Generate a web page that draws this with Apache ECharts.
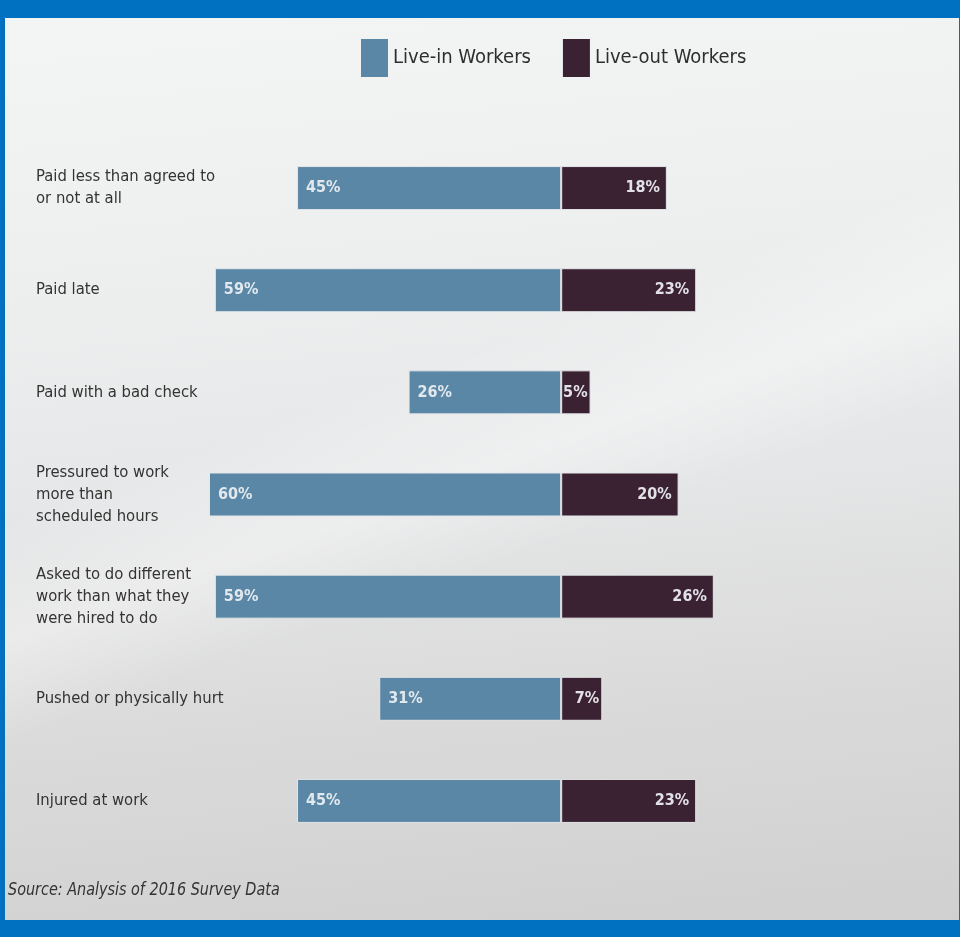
<!DOCTYPE html>
<html>
<head>
<meta charset="utf-8">
<script src="https://cdn.jsdelivr.net/npm/echarts@6/dist/echarts.min.js"></script>
<style>
  html, body { margin: 0; padding: 0; }
  body { width: 960px; height: 937px; background: #0070c0; position: relative; overflow: hidden; }
  #bg { position: absolute; left: 5px; top: 18px; width: 954px; height: 902px;
        background:
          linear-gradient(160deg, rgba(255,255,255,0) 40%, rgba(255,255,255,0.35) 50%, rgba(255,255,255,0) 58%),
          linear-gradient(175deg, #f3f5f5 0%, #eef0f0 25%, #e6e7e8 50%, #dadada 75%, #d0d0d0 100%); }
  #chart { position: absolute; left: 0; top: 0; width: 960px; height: 937px; }
</style>
</head>
<body>
<div id="bg"></div>
<div id="chart"></div>
<script>
const categories = [
  "Paid less than agreed to\nor not at all",
  "Paid late",
  "Paid with a bad check",
  "Pressured to work\nmore than\nscheduled hours",
  "Asked to do different\nwork than what they\nwere hired to do",
  "Pushed or physically hurt",
  "Injured at work"
];
const liveIn = [45, 59, 26, 60, 59, 31, 45];
const liveOut = [18, 23, 5, 20, 26, 7, 23];
const seriesNames = ["Live-in Workers", "Live-out Workers"];
const sourceText = "Source: Analysis of 2016 Survey Data";

const FONT = "'DejaVu Sans Condensed', 'Liberation Sans Narrow', sans-serif";
const chart = echarts.init(document.getElementById('chart'));
chart.setOption({
  backgroundColor: 'transparent',
  animation: false,
  legend: {
    data: seriesNames,
    left: 361, top: 39, padding: 0,
    itemWidth: 27, itemHeight: 38, itemGap: 32,
    icon: 'rect',
    itemStyle: { borderWidth: 0 },
    textStyle: { fontFamily: FONT, fontSize: 20, color: '#2e2e2e' }
  },
  grid: { left: 209, right: 164, top: 137, bottom: 85, containLabel: false },
  xAxis: {
    type: 'value', min: -60, max: 40, show: false
  },
  yAxis: {
    type: 'category', data: categories, inverse: true,
    axisLine: { show: false }, axisTick: { show: false }, splitLine: { show: false },
    axisLabel: {
      align: 'left', margin: 173,
      fontFamily: FONT, fontSize: 16.5, lineHeight: 22, color: '#333'
    }
  },
  series: [
    {
      name: seriesNames[0], type: 'bar', stack: 'a', barWidth: 44,
      data: liveIn.map(v => -v),
      itemStyle: { color: '#5a87a5', borderColor: '#e4e6e8', borderWidth: 1 },
      label: { show: true, position: 'insideLeft', distance: 9,
        formatter: p => Math.abs(p.value) + '%',
        fontFamily: FONT, fontSize: 16, fontWeight: 'bold', color: '#e2e9ee' }
    },
    {
      name: seriesNames[1], type: 'bar', stack: 'a', barWidth: 44,
      data: liveOut.map(v => ({ value: v, label: { distance: v < 10 ? 3 : 7 } })),
      itemStyle: { color: '#3b2233', borderColor: '#e4e6e8', borderWidth: 1 },
      label: { show: true, position: 'insideRight',
        formatter: p => p.value + '%',
        fontFamily: FONT, fontSize: 16, fontWeight: 'bold', color: '#e2e2e6' }
    }
  ],
  graphic: [
    { type: 'text', left: 8, top: 881, scaleY: 1.15,
      style: { text: sourceText, font: "italic 16px 'DejaVu Sans Condensed', sans-serif", fill: '#333' } }
  ]
});
</script>
</body>
</html>
